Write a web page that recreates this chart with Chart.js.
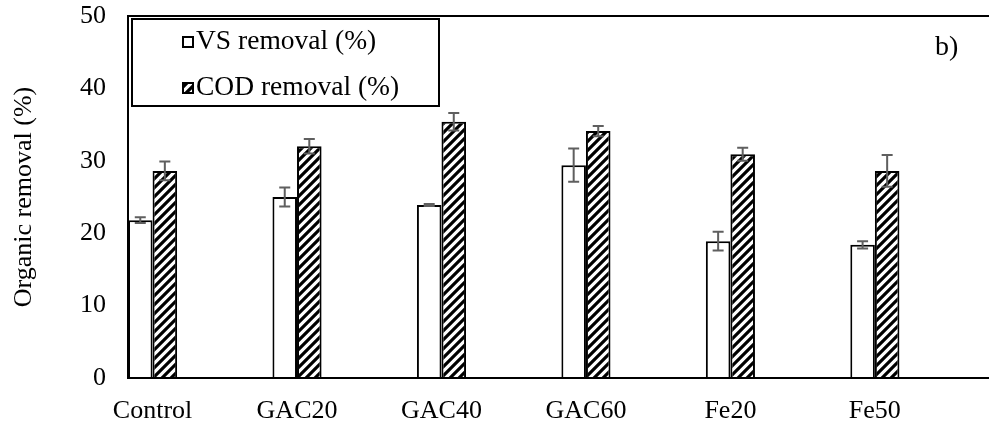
<!DOCTYPE html>
<html>
<head>
<meta charset="utf-8">
<script src="https://cdn.jsdelivr.net/npm/chart.js@4.4.1/dist/chart.umd.min.js"></script>
<style>
html,body{margin:0;padding:0;background:#fff;overflow:hidden;}
canvas{display:block;}
</style>
</head>
<body>
<canvas id="c" width="989" height="425"></canvas>
<script>
// ---- data ----
const categories = ['Control', 'GAC20', 'GAC40', 'GAC60', 'Fe20', 'Fe50'];
const vsRemoval  = [21.8, 25.0, 23.9, 29.4, 18.9, 18.4];
const vsError    = [0.4, 1.3, 0.15, 2.3, 1.3, 0.5];
const codRemoval = [28.6, 32.0, 35.4, 34.1, 30.9, 28.6];
const codError   = [1.3, 1.0, 1.2, 0.7, 0.9, 2.2];
const yTicks = [0, 10, 20, 30, 40, 50];
const seriesLabels = ['VS removal (%)', 'COD removal (%)'];
const yTitle = 'Organic removal (%)';
const panelLabel = 'b)';

const FONT = '"Liberation Serif", "Times New Roman", serif';
const canvas = document.getElementById('c');
const mainCtx = canvas.getContext('2d');

function makeHatch() {
  const s = 9;
  const c = document.createElement('canvas');
  c.width = s; c.height = s;
  const g = c.getContext('2d');
  g.fillStyle = '#fff';
  g.fillRect(0, 0, s, s);
  g.strokeStyle = '#000';
  g.lineWidth = 3.2;
  g.beginPath();
  g.moveTo(-s, s); g.lineTo(s, -s);
  g.moveTo(0, s); g.lineTo(s, 0);
  g.moveTo(0, 2 * s); g.lineTo(2 * s, 0);
  g.stroke();
  return mainCtx.createPattern(c, 'repeat');
}
const hatch = makeHatch();

const errorBars = {
  id: 'errorBars',
  afterDatasetsDraw(chart) {
    const ctx = chart.ctx;
    const ys = chart.scales.y;
    chart.data.datasets.forEach((ds, di) => {
      const meta = chart.getDatasetMeta(di);
      meta.data.forEach((bar, i) => {
        const v = ds.data[i].y, e = ds.errors[i];
        const yt = ys.getPixelForValue(v + e);
        const yb = ys.getPixelForValue(v - e);
        ctx.save();
        ctx.strokeStyle = '#5f5f5f';
        ctx.lineWidth = 2;
        ctx.beginPath();
        ctx.moveTo(bar.x, yt); ctx.lineTo(bar.x, yb);
        ctx.moveTo(bar.x - 5.5, yt); ctx.lineTo(bar.x + 5.5, yt);
        ctx.moveTo(bar.x - 5.5, yb); ctx.lineTo(bar.x + 5.5, yb);
        ctx.stroke();
        ctx.restore();
      });
    });
  }
};

const boxLegend = {
  id: 'boxLegend',
  afterDraw(chart) {
    const ctx = chart.ctx;
    const a = chart.chartArea;
    ctx.save();
    const bx = a.left + 4, by = a.top + 3, bw = 307, bh = 87;
    ctx.fillStyle = '#fff';
    ctx.fillRect(bx, by, bw, bh);
    ctx.strokeStyle = '#000';
    ctx.lineWidth = 2;
    ctx.strokeRect(bx, by, bw, bh);
    const rows = [42, 88];
    chart.data.datasets.forEach((ds, i) => {
      const my = rows[i];
      ctx.fillStyle = ds.backgroundColor;
      ctx.fillRect(183, my - 5, 10, 10);
      ctx.strokeStyle = '#000';
      ctx.lineWidth = 2;
      ctx.strokeRect(183, my - 5, 10, 10);
      ctx.fillStyle = '#000';
      ctx.font = '27.5px ' + FONT;
      ctx.textAlign = 'left';
      ctx.textBaseline = 'middle';
      ctx.fillText(ds.label, 196, my);
    });
    ctx.font = '28px ' + FONT;
    ctx.textAlign = 'left';
    ctx.textBaseline = 'alphabetic';
    ctx.fillStyle = '#000';
    ctx.fillText(panelLabel, 935, 55);
    ctx.restore();
  }
};

new Chart(canvas, {
  type: 'bar',
  data: {
    datasets: [
      {
        label: seriesLabels[0],
        data: vsRemoval.map((v, i) => ({ x: i, y: v })),
        errors: vsError,
        backgroundColor: '#ffffff',
        borderColor: '#000',
        borderWidth: 2,
        borderSkipped: 'start'
      },
      {
        label: seriesLabels[1],
        data: codRemoval.map((v, i) => ({ x: i, y: v })),
        errors: codError,
        backgroundColor: hatch,
        borderColor: '#000',
        borderWidth: 2,
        borderSkipped: 'start'
      }
    ]
  },
  options: {
    responsive: false,
    animation: false,
    devicePixelRatio: 1,
    layout: { autoPadding: false, padding: { top: 16, left: 0, right: 0, bottom: 0 } },
    datasets: { bar: { categoryPercentage: 0.34, barPercentage: 1.0 } },
    plugins: { legend: { display: false }, tooltip: { enabled: false } },
    scales: {
      x: {
        type: 'linear',
        min: -0.17,
        max: 5.79,
        offset: false,
        grid: { display: false, drawTicks: false },
        border: { display: true, color: '#000', width: 2 },
        ticks: {
          autoSkip: false, maxRotation: 0, padding: 18, color: '#000',
          font: { family: FONT, size: 26 },
          callback: (v) => categories[v] !== undefined ? categories[v] : ''
        },
        afterBuildTicks: (s) => { s.ticks = categories.map((_, i) => ({ value: i })); },
        afterFit: (s) => { s.height = 47; s.paddingLeft = 0; s.paddingRight = 0; }
      },
      y: {
        min: yTicks[0],
        max: yTicks[yTicks.length - 1],
        grid: {
          drawTicks: false,
          lineWidth: 2,
          color: (c) => (c.tick && c.tick.value === yTicks[yTicks.length - 1]) ? '#000' : 'rgba(0,0,0,0)'
        },
        border: { display: true, color: '#000', width: 2 },
        ticks: { padding: 22, color: '#000', font: { family: FONT, size: 26 } },
        afterBuildTicks: (s) => { s.ticks = yTicks.map(v => ({ value: v })); },
        title: {
          display: true, text: yTitle, color: '#000',
          font: { family: FONT, size: 26 },
          padding: { top: 9, bottom: 0 }
        },
        afterFit: (s) => { s.width = 128; s.paddingTop = 0; s.paddingBottom = 0; }
      }
    }
  },
  plugins: [errorBars, boxLegend]
});
</script>
</body>
</html>
